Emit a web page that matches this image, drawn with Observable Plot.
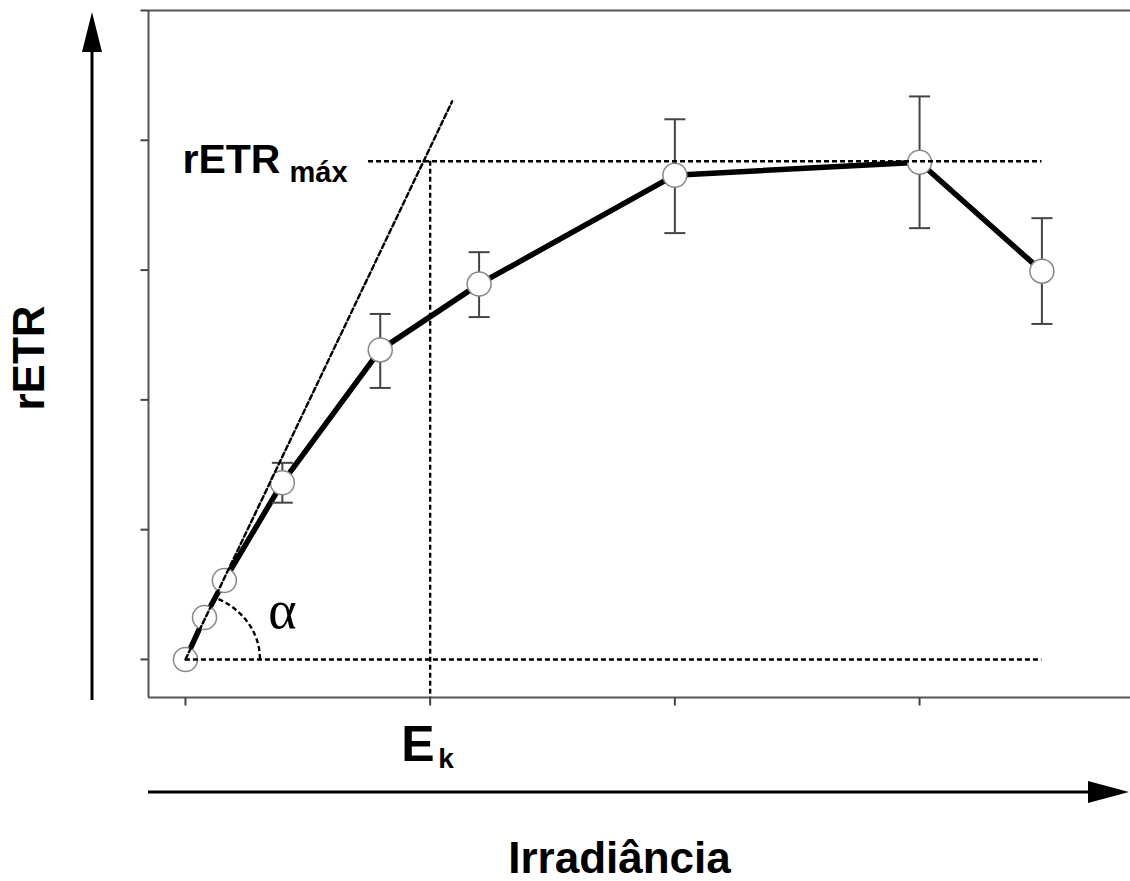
<!DOCTYPE html>
<html>
<head>
<meta charset="utf-8">
<script src="https://cdn.jsdelivr.net/npm/d3@7"></script>
<script src="https://cdn.jsdelivr.net/npm/@observablehq/plot@0.6"></script>
<style>
  html, body { margin: 0; padding: 0; background: #fff; overflow: hidden; }
  #chart svg { display: block; }
</style>
</head>
<body>
<div id="chart"></div>
<script>
// ---- data ----
const irradiance = [0, 0.078, 0.159, 0.396, 0.796, 1.2, 2, 3, 3.5];
const retr       = [0, 0.323, 0.608, 1.362, 2.385, 2.892, 3.731, 3.831, 2.992];
const errLow     = [null, null, null, 1.208, 2.092, 2.638, 3.285, 3.323, 2.585];
const errHigh    = [null, null, null, 1.515, 2.662, 3.138, 4.162, 4.338, 3.400];

const rETRmax = 3.838;        // plateau level
const Ek = 1;                 // saturation irradiance
const maxLineStart = 0.748;   // where the rETRmax dashed line begins
const tangentX = [0, 1.09];   // initial slope (alpha) line
const tangentY = [0, 4.3];

const xTicks = [0, 1, 2, 3];
const yTicks = [0, 1, 2, 3, 4, 5];

const xLabel = "Irradiância";
const yLabel = "rETR";
const maxLabel = ["rETR", "máx"];
const ekLabel = ["E", "k"];
const alphaLabel = "α";

const xDomain = [-0.151, 3.862];
const yDomain = [-0.293, 5];

// ---- derived tables ----
const points = irradiance.map((x, i) => ({x, y: retr[i], lo: errLow[i], hi: errHigh[i]}));
const bars = points.filter(d => d.lo != null);
const tangent = tangentX.map((x, i) => ({x, y: tangentY[i]}));

const sans = "'Liberation Sans', Arial, Helvetica, sans-serif";
const dash = {stroke: "#000", strokeWidth: 2.4, strokeDasharray: "5,3"};

const capSymbol = {draw(ctx) { ctx.moveTo(-10.5, 0); ctx.lineTo(10.5, 0); }};
const xTickSymbol = {draw(ctx) { ctx.moveTo(0, 0); ctx.lineTo(0, 8); }};
const yTickSymbol = {draw(ctx) { ctx.moveTo(-8, 0); ctx.lineTo(0, 0); }};

function decorations(index, scales, values, dimensions) {
  const {width, height, marginLeft, marginBottom} = dimensions;
  const g = d3.create("svg:g");
  const bottom = height - marginBottom;
  // vertical arrow (rETR)
  const ax = marginLeft - 56;
  g.append("line").attr("x1", ax).attr("x2", ax)
    .attr("y1", bottom + 3).attr("y2", 40)
    .attr("stroke", "#000").attr("stroke-width", 3);
  g.append("path").attr("d", `M${ax},12L${ax - 10},52L${ax + 10},52Z`).attr("fill", "#000");
  // horizontal arrow (Irradiância)
  const ay = bottom + 95;
  g.append("line").attr("x1", marginLeft).attr("x2", width - 30)
    .attr("y1", ay).attr("y2", ay)
    .attr("stroke", "#000").attr("stroke-width", 3);
  g.append("path").attr("d", `M${width - 1},${ay}L${width - 42},${ay - 11}L${width - 42},${ay + 11}Z`).attr("fill", "#000");
  // alpha arc
  const cx = scales.x(irradiance[0]), cy = scales.y(retr[0]);
  const rx = 75, ry = 67, a = 64 * Math.PI / 180;
  g.append("path")
    .attr("d", `M${cx + rx},${cy}A${rx},${ry} 0 0 0 ${cx + rx * Math.cos(a)},${cy - ry * Math.sin(a)}`)
    .attr("fill", "none").attr("stroke", "#000").attr("stroke-width", 2.4)
    .attr("stroke-dasharray", "5,3");
  return g.node();
}

const chart = Plot.plot({
  width: 1130,
  height: 881,
  marginLeft: 148,
  marginRight: 0,
  marginTop: 10,
  marginBottom: 184,
  x: {domain: xDomain, axis: null},
  y: {domain: yDomain, axis: null},
  style: {background: "#fff", color: "#000"},
  marks: [
    // frame: top, bottom, left (right side open)
    Plot.ruleY([yDomain[0], yDomain[1]], {stroke: "#555", strokeWidth: 2}),
    Plot.ruleX([xDomain[0]], {stroke: "#555", strokeWidth: 2}),
    // ticks
    Plot.dot(xTicks, {x: d => d, frameAnchor: "bottom", symbol: xTickSymbol, fill: "none", stroke: "#444", strokeWidth: 2}),
    Plot.dot(yTicks, {y: d => d, frameAnchor: "left", symbol: yTickSymbol, fill: "none", stroke: "#444", strokeWidth: 2}),
    // data line
    Plot.line(points, {x: "x", y: "y", stroke: "#000", strokeWidth: 5.5, strokeLinejoin: "round"}),
    // error bars
    Plot.ruleX(bars, {x: "x", y1: "lo", y2: "hi", stroke: "#444", strokeWidth: 2}),
    Plot.dot(bars, {x: "x", y: "lo", symbol: capSymbol, fill: "none", stroke: "#444", strokeWidth: 2}),
    Plot.dot(bars, {x: "x", y: "hi", symbol: capSymbol, fill: "none", stroke: "#444", strokeWidth: 2}),
    // points
    Plot.dot(points, {x: "x", y: "y", r: 12, fill: "#fff", stroke: "#888", strokeWidth: 1.5}),
    // dashed construction lines
    Plot.ruleY([retr[0]], {x1: irradiance[0], x2: irradiance[irradiance.length - 1], ...dash}),
    Plot.ruleY([rETRmax], {x1: maxLineStart, x2: irradiance[irradiance.length - 1], ...dash}),
    Plot.ruleX([Ek], {y1: rETRmax, y2: yDomain[0], ...dash}),
    Plot.line(tangent, {x: "x", y: "y", ...dash}),
    // arrows + alpha arc
    decorations,
    // labels
    Plot.text([yLabel], {text: d => d, frameAnchor: "left", rotate: -90, dx: -105, dy: 4,
      textAnchor: "middle", lineAnchor: "bottom", fontSize: 44, fontWeight: "bold", fontFamily: sans, fill: "#000"}),
    Plot.text([xLabel], {text: d => d, frameAnchor: "bottom", dx: -20, dy: 175,
      textAnchor: "middle", lineAnchor: "bottom", fontSize: 44, fontWeight: "bold", fontFamily: sans, fill: "#000"}),
    Plot.text([maxLabel[0]], {text: d => d, y: [rETRmax], frameAnchor: "left", dx: 34, dy: 12,
      textAnchor: "start", lineAnchor: "bottom", fontSize: 41, fontWeight: "bold", fontFamily: sans, fill: "#000"}),
    Plot.text([maxLabel[1]], {text: d => d, y: [rETRmax], frameAnchor: "left", dx: 141, dy: 21,
      textAnchor: "start", lineAnchor: "bottom", fontSize: 29, fontWeight: "bold", fontFamily: sans, fill: "#000"}),
    Plot.text([ekLabel[0]], {text: d => d, x: [Ek], frameAnchor: "bottom", dx: -29, dy: 63,
      textAnchor: "start", lineAnchor: "bottom", fontSize: 50, fontWeight: "bold", fontFamily: sans, fill: "#000"}),
    Plot.text([ekLabel[1]], {text: d => d, x: [Ek], frameAnchor: "bottom", dx: 8, dy: 70,
      textAnchor: "start", lineAnchor: "bottom", fontSize: 28, fontWeight: "bold", fontFamily: sans, fill: "#000"}),
    Plot.text([alphaLabel], {text: d => d, x: [irradiance[0]], y: [retr[0]], dx: 97, dy: -49,
      textAnchor: "middle", lineAnchor: "middle", fontSize: 54, fontFamily: "'Liberation Serif', 'DejaVu Serif', serif", fill: "#000"})
  ]
});

document.getElementById("chart").appendChild(chart);
</script>
</body>
</html>
